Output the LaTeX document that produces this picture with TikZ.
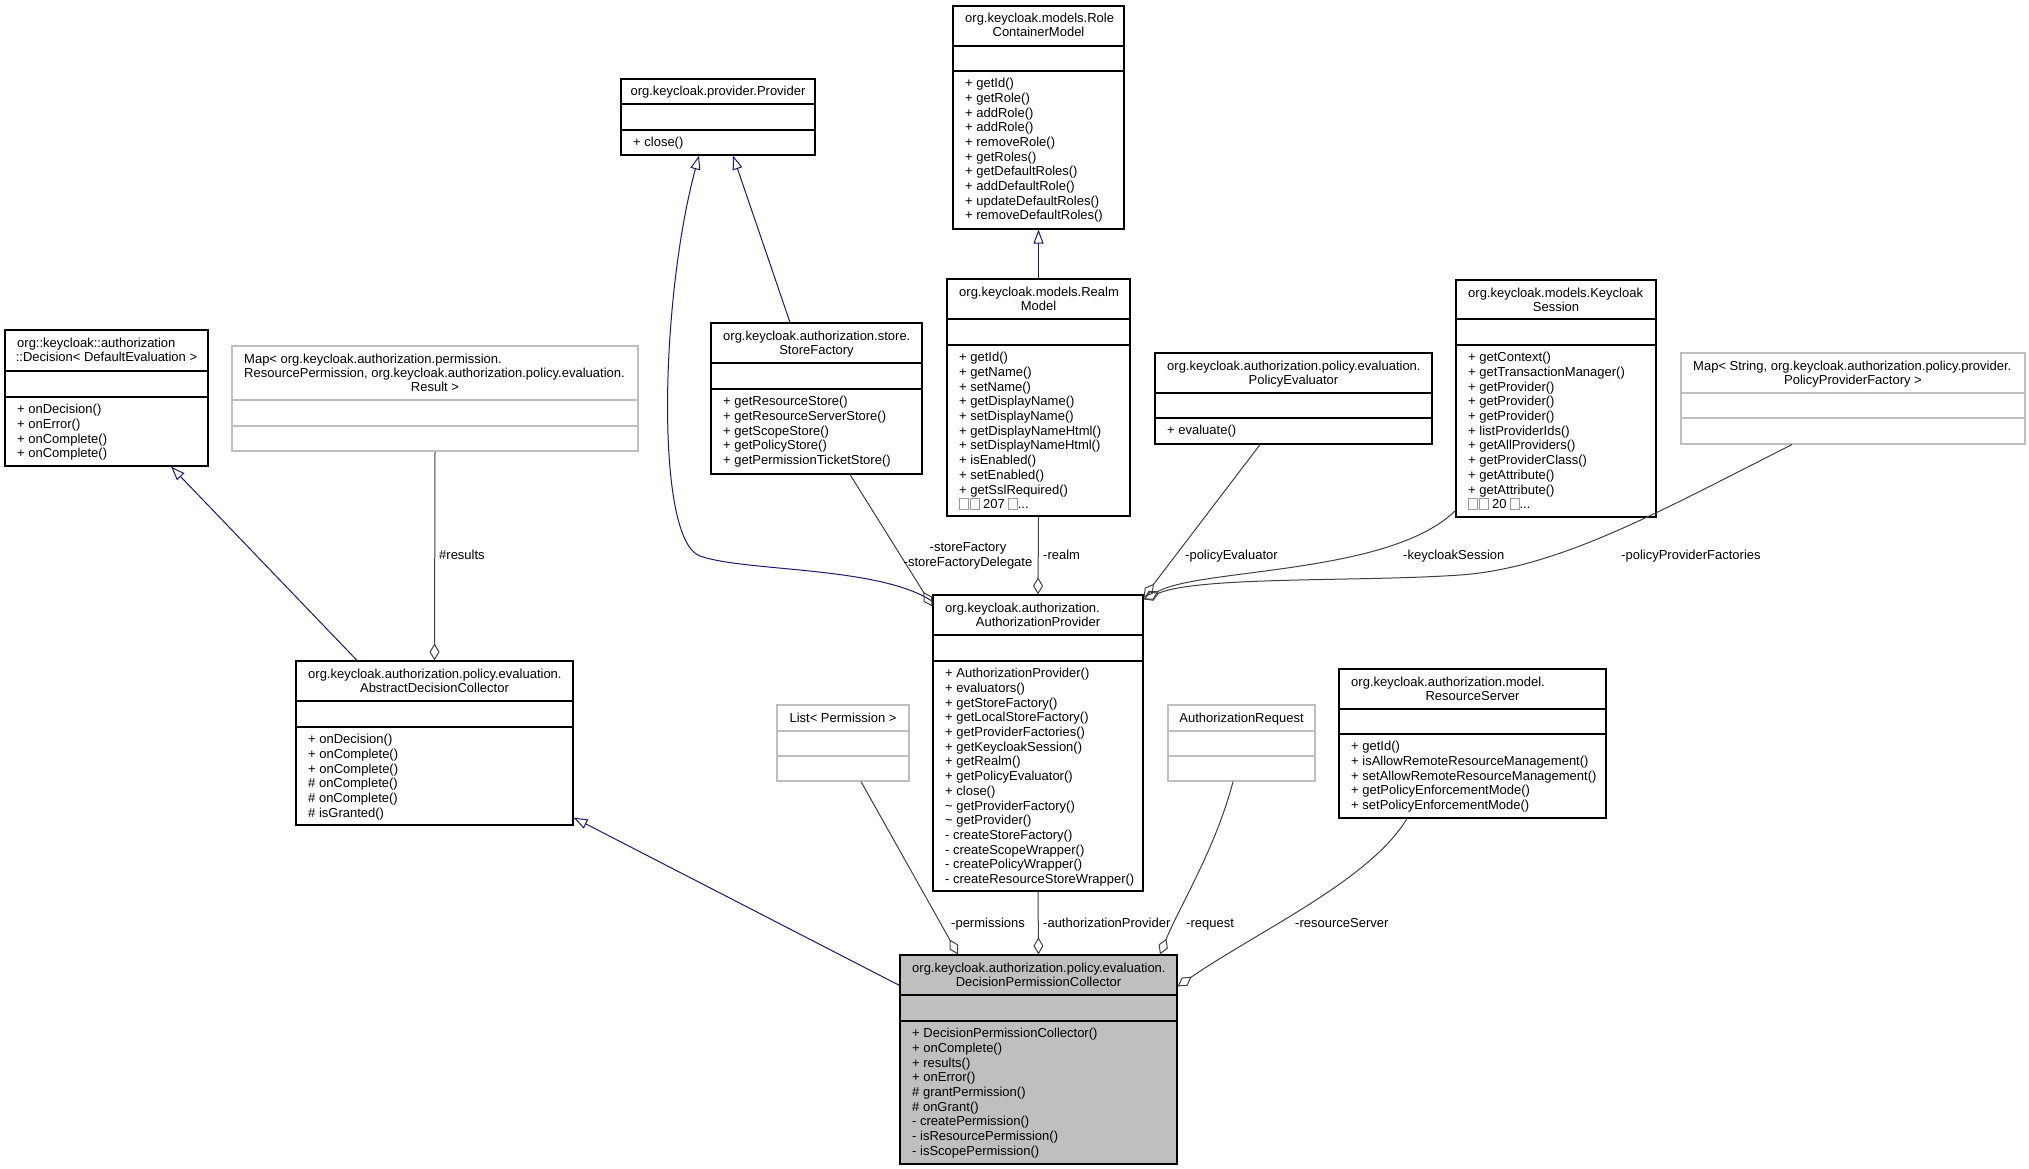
\documentclass[tikz,border=0pt]{standalone}
\usepackage{fontspec}
\setmainfont{Liberation Sans}
\usetikzlibrary{arrows.meta,fit}
\definecolor{navy}{HTML}{191970}
\definecolor{edgegray}{HTML}{404040}
\definecolor{boxgray}{HTML}{BFBFBF}
\tikzset{
  cls/.style={draw=black, line width=1.2pt, fill=white, inner sep=0pt},
  gcls/.style={draw=boxgray, line width=1.2pt, fill=white, inner sep=0pt},
  hcls/.style={draw=black, line width=1.2pt, fill=boxgray, inner sep=0pt},
  tx/.style={inner sep=0pt, font=\fontsize{13pt}{14.7pt}\selectfont, text=black},
  lbl/.style={tx, anchor=base west},
  inh/.style={draw=navy, line width=1pt, -{Triangle[open, length=14pt, width=10pt, line width=1pt]}},
  assoc/.style={draw=edgegray, line width=1pt, -{Diamond[open, length=17pt, width=10pt, line width=1pt]}},
}
\newcommand\umlcls[8]{\node[#8, fit={(#2,#3) (#4,#5)}] (#1) {};\draw[#8, fill=none] (#2,#6) -- (#4,#6) (#2,#7) -- (#4,#7);}
\newcommand\hdL[4]{\node[tx, anchor=base west] (#1) at (#2,#3) {#4};}
\newcommand\hdC[4]{\node[tx, anchor=base] (#1) at (#2,#3) {#4};}
\newcommand\mths[4]{\node[tx, anchor=north west, align=left] (#1) at (#2,#3) {\rule{0pt}{11pt}#4};}
\newcommand\tofu{{\color{black!40}\fboxsep=0pt\fboxrule=0.7pt\fbox{\rule{0pt}{10.5pt}\rule{8pt}{0pt}}}}
\begin{document}
\begin{tikzpicture}[x=1pt,y=-1pt]
\useasboundingbox (0,0) rectangle (2029,1169);
\fill[white] (0,0) rectangle (2029,1169);

% RoleContainerModel
\umlcls{RCM}{953}{6}{1124}{229}{46}{71}{cls}
\hdL{RCM-h1}{965}{23}{org.keycloak.models.Role}
\hdC{RCM-h2}{1038.5}{37}{ContainerModel}
\mths{RCM-m}{965}{76.5}{+ getId()\\+ getRole()\\+ addRole()\\+ addRole()\\+ removeRole()\\+ getRoles()\\+ getDefaultRoles()\\+ addDefaultRole()\\+ updateDefaultRoles()\\+ removeDefaultRoles()}

% Provider
\umlcls{PRV}{621}{79}{815}{155}{104}{130}{cls}
\hdC{PRV-h1}{718}{96}{org.keycloak.provider.Provider}
\mths{PRV-m}{633}{135.5}{+ close()}

% Decision
\umlcls{DEC}{5}{330}{208}{466}{371}{397}{cls}
\hdL{DEC-h1}{17}{347}{org::keycloak::authorization}
\hdC{DEC-h2}{106.5}{361}{::Decision< DefaultEvaluation >}
\mths{DEC-m}{17}{402.5}{+ onDecision()\\+ onError()\\+ onComplete()\\+ onComplete()}

% Map results
\umlcls{MAP1}{232}{346}{638}{451}{400}{426}{gcls}
\hdL{MAP1-h1}{244}{363}{Map< org.keycloak.authorization.permission.}
\hdL{MAP1-h2}{244}{377}{ResourcePermission, org.keycloak.authorization.policy.evaluation.}
\hdC{MAP1-h3}{435}{391}{Result >}

% StoreFactory
\umlcls{SF}{711}{323}{922}{474}{363}{389}{cls}
\hdL{SF-h1}{723}{340}{org.keycloak.authorization.store.}
\hdC{SF-h2}{816.5}{354}{StoreFactory}
\mths{SF-m}{723}{394.5}{+ getResourceStore()\\+ getResourceServerStore()\\+ getScopeStore()\\+ getPolicyStore()\\+ getPermissionTicketStore()}

% RealmModel
\umlcls{RM}{947}{279}{1130}{516}{319}{345}{cls}
\hdL{RM-h1}{959}{296}{org.keycloak.models.Realm}
\hdC{RM-h2}{1038.5}{310}{Model}
\mths{RM-m}{959}{350.5}{+ getId()\\+ getName()\\+ setName()\\+ getDisplayName()\\+ setDisplayName()\\+ getDisplayNameHtml()\\+ setDisplayNameHtml()\\+ isEnabled()\\+ setEnabled()\\+ getSslRequired()\\\tofu\hspace{1.5pt}\tofu{} 207 \tofu{}...}

% PolicyEvaluator
\umlcls{PE}{1155}{353}{1432}{444}{393}{418}{cls}
\hdL{PE-h1}{1167}{370}{org.keycloak.authorization.policy.evaluation.}
\hdC{PE-h2}{1293.5}{384}{PolicyEvaluator}
\mths{PE-m}{1167}{423.5}{+ evaluate()}

% KeycloakSession
\umlcls{KS}{1456}{280}{1656}{517}{319}{345}{cls}
\hdL{KS-h1}{1468}{297}{org.keycloak.models.Keycloak}
\hdC{KS-h2}{1556}{311}{Session}
\mths{KS-m}{1468}{350.5}{+ getContext()\\+ getTransactionManager()\\+ getProvider()\\+ getProvider()\\+ getProvider()\\+ listProviderIds()\\+ getAllProviders()\\+ getProviderClass()\\+ getAttribute()\\+ getAttribute()\\\tofu\hspace{1.5pt}\tofu{} 20 \tofu{}...}

% Map policy provider factories
\umlcls{MAP2}{1681}{353}{2025}{444}{393}{418}{gcls}
\hdL{MAP2-h1}{1693}{370}{Map< String, org.keycloak.authorization.policy.provider.}
\hdC{MAP2-h2}{1853}{384}{PolicyProviderFactory >}

% AbstractDecisionCollector
\umlcls{ADC}{296}{661}{573}{825}{701}{727}{cls}
\hdL{ADC-h1}{308}{678}{org.keycloak.authorization.policy.evaluation.}
\hdC{ADC-h2}{434.5}{692}{AbstractDecisionCollector}
\mths{ADC-m}{308}{732.5}{+ onDecision()\\+ onComplete()\\+ onComplete()\\\# onComplete()\\\# onComplete()\\\# isGranted()}

% List<Permission>
\umlcls{LP}{777}{705}{909}{781}{731}{756}{gcls}
\hdC{LP-h1}{843}{722}{List< Permission >}

% AuthorizationProvider
\umlcls{AP}{933}{595}{1143}{891}{635}{661}{cls}
\hdL{AP-h1}{945}{612}{org.keycloak.authorization.}
\hdC{AP-h2}{1038}{626}{AuthorizationProvider}
\mths{AP-m}{945}{666.5}{+ AuthorizationProvider()\\+ evaluators()\\+ getStoreFactory()\\+ getLocalStoreFactory()\\+ getProviderFactories()\\+ getKeycloakSession()\\+ getRealm()\\+ getPolicyEvaluator()\\+ close()\\\textasciitilde{} getProviderFactory()\\\textasciitilde{} getProvider()\\- createStoreFactory()\\- createScopeWrapper()\\- createPolicyWrapper()\\- createResourceStoreWrapper()}

% AuthorizationRequest
\umlcls{AR}{1168}{705}{1315}{781}{731}{756}{gcls}
\hdC{AR-h1}{1241.5}{722}{AuthorizationRequest}

% ResourceServer
\umlcls{RS}{1339}{669}{1606}{818}{709}{734}{cls}
\hdL{RS-h1}{1351}{686}{org.keycloak.authorization.model.}
\hdC{RS-h2}{1472.5}{700}{ResourceServer}
\mths{RS-m}{1351}{739.5}{+ getId()\\+ isAllowRemoteResourceManagement()\\+ setAllowRemoteResourceManagement()\\+ getPolicyEnforcementMode()\\+ setPolicyEnforcementMode()}

% DecisionPermissionCollector
\umlcls{DPC}{900}{955}{1177}{1164}{995}{1021}{hcls}
\hdL{DPC-h1}{912}{972}{org.keycloak.authorization.policy.evaluation.}
\hdC{DPC-h2}{1038.5}{986}{DecisionPermissionCollector}
\mths{DPC-m}{912}{1026.5}{+ DecisionPermissionCollector()\\+ onComplete()\\+ results()\\+ onError()\\\# grantPermission()\\\# onGrant()\\- createPermission()\\- isResourcePermission()\\- isScopePermission()}

% inheritance
\draw[inh] ([yshift=-7pt]AP.north west) .. controls (880,566) and (745,572) .. (700,556) .. controls (655,540) and (660,300) .. ([xshift=-19pt]PRV.south);
\draw[inh] ([xshift=-26.5pt]SF.north) -- ([xshift=15pt]PRV.south);
\draw[inh] (RM.north) -- (RCM.south);
\draw[inh] ([xshift=-77.5pt]ADC.north) -- ([xshift=64.5pt]DEC.south);
\draw[inh] ([yshift=-31pt]DPC.north west) -- ([yshift=8pt]ADC.south east);

% associations
\draw[assoc] (MAP1.south) -- (ADC.north);
\draw[assoc] ([xshift=33.5pt]SF.south) -- ([yshift=-12pt]AP.north west);
\draw[assoc] (RM.south) -- (AP.north);
\draw[assoc] ([xshift=-33.5pt]PE.south) -- ([yshift=-3pt]AP.north east);
\draw[assoc] ([yshift=7pt]KS.south west) .. controls (1390,575) and (1200,568) .. ([yshift=-5pt]AP.north east);
\draw[assoc] ([xshift=-61pt]MAP2.south) .. controls (1662,510) and (1560,568) .. (1460,575) .. controls (1360,582) and (1200,576) .. ([yshift=-5pt]AP.north east);
\draw[assoc] ([xshift=18pt]LP.south) -- ([xshift=-80.5pt]DPC.north);
\draw[assoc] (AP.south) -- (DPC.north);
\draw[assoc] ([xshift=-8.5pt]AR.south) .. controls (1215,850) and (1180,905) .. ([xshift=121.5pt]DPC.north);
\draw[assoc] ([xshift=-65.5pt]RS.south) .. controls (1370,880) and (1260,930) .. ([yshift=-32pt]DPC.north east);

% labels
\node[lbl] (L-results) at (439,559.5) {\#results};
\node[tx, align=center] (L-sf) at (968,556) {-storeFactory\\-storeFactoryDelegate};
\node[lbl] (L-realm) at (1043,559.5) {-realm};
\node[lbl] (L-pe) at (1185,559.5) {-policyEvaluator};
\node[lbl] (L-ks) at (1403,559.5) {-keycloakSession};
\node[lbl] (L-ppf) at (1621,559.5) {-policyProviderFactories};
\node[lbl] (L-perm) at (951,927.5) {-permissions};
\node[lbl] (L-ap) at (1043,927.5) {-authorizationProvider};
\node[lbl] (L-req) at (1186,927.5) {-request};
\node[lbl] (L-rs) at (1295,927.5) {-resourceServer};
\end{tikzpicture}
\end{document}
